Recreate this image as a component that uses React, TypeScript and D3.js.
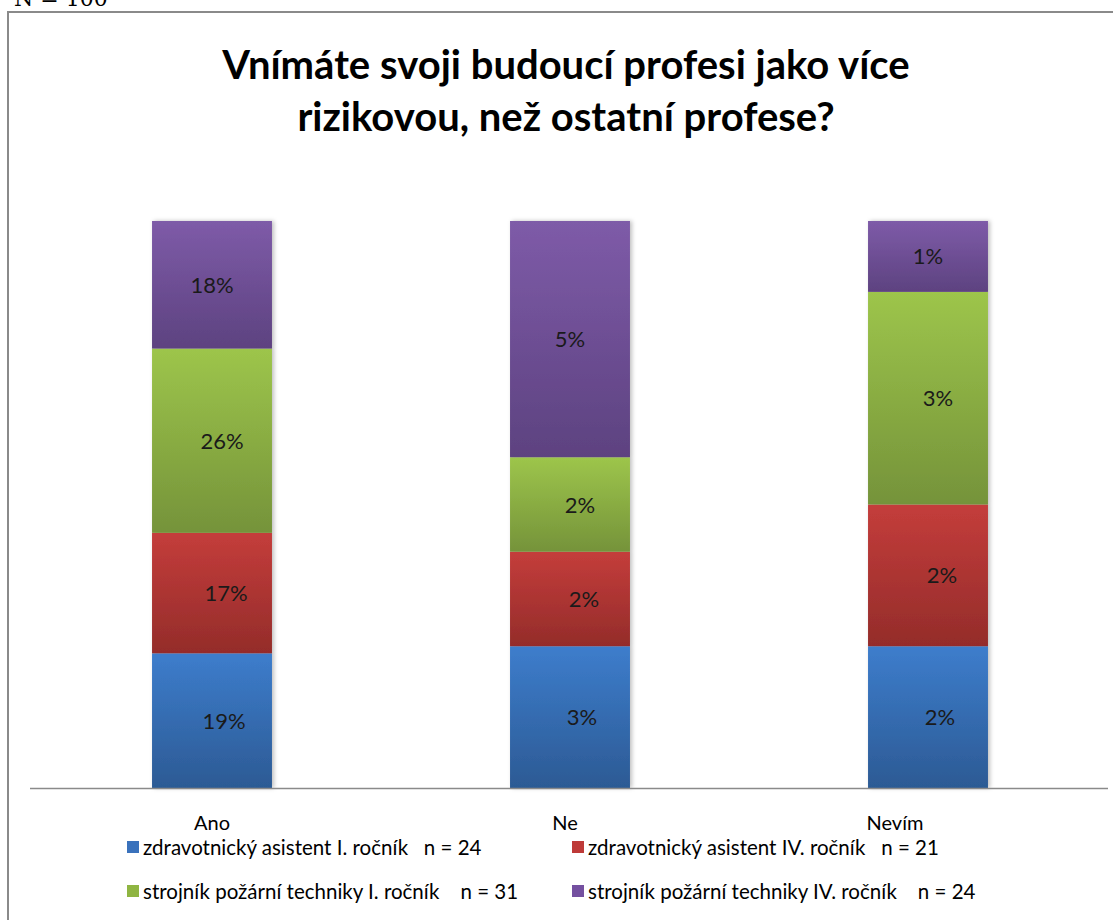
import React from "react";
import * as d3 from "d3";

const categories = ["Ano", "Ne", "Nevím"];
const seriesNames = [
  "zdravotnický asistent I. ročník   n = 24",
  "zdravotnický asistent IV. ročník   n = 21",
  "strojník požární techniky I. ročník    n = 31",
  "strojník požární techniky IV. ročník    n = 24",
];
const seriesKeys = ["zaI", "zaIV", "spI", "spIV"];
const zaI = [19, 3, 2];
const zaIV = [17, 2, 2];
const spI = [26, 2, 3];
const spIV = [18, 5, 1];
const titleLines = ["Vnímáte svoji budoucí profesi jako více", "rizikovou, než ostatní profese?"];

const colorsTop = ["#3d7dcc", "#c43d3b", "#9dc54b", "#7e5ba8"];
const colorsBot = ["#2c5a94", "#942c2a", "#75933a", "#5d4280"];
const legendColors = ["#3a72bc", "#be3a38", "#8fb542", "#7450a0"];

// layout offsets (pixels), not data
const catLabelShift = [0, -5, -33];
const dataLabelShift = [12, 14, 10, 0];

const W = 1113;
const H = 920;

export default function App() {
  const rows = categories.map((c, i) => ({
    cat: c,
    zaI: zaI[i],
    zaIV: zaIV[i],
    spI: spI[i],
    spIV: spIV[i],
  }));
  const stack = d3.stack<any>().keys(seriesKeys).offset(d3.stackOffsetExpand);
  const series = stack(rows);

  const x = d3.scaleBand().domain(categories).range([33, 1107]).paddingInner(0.665).paddingOuter(0.3325);
  const y = d3.scaleLinear().domain([0, 1]).range([788, 221]);
  const font = "Lato, 'Open Sans', sans-serif";
  const valArrays = [zaI, zaIV, spI, spIV];

  return (
    <svg width={W} height={H} style={{ position: "absolute", left: 0, top: 0 }} xmlns="http://www.w3.org/2000/svg">
      <defs>
        {seriesKeys.map((k, i) => (
          <linearGradient key={k} id={"g" + i} x1="0" y1="0" x2="0" y2="1">
            <stop offset="0%" stopColor={colorsTop[i]} />
            <stop offset="100%" stopColor={colorsBot[i]} />
          </linearGradient>
        ))}
        <filter id="sh" x="-10%" y="-10%" width="130%" height="120%">
          <feDropShadow dx="2" dy="0" stdDeviation="2" floodColor="#000" floodOpacity="0.25" />
        </filter>
      </defs>
      <rect x={0} y={0} width={W} height={H} fill="#fff" />
      <text x={14} y={6} fontFamily="'DejaVu Serif', serif" fontSize={22} fill="#000">N = 100</text>
      <rect x={8} y={12} width={W + 20} height={H + 20} fill="#fff" stroke="#8a8a8a" strokeWidth={2} />
      {titleLines.map((t, i) => (
        <text key={i} x={566} y={79 + i * 52} textAnchor="middle" fontFamily={font} fontWeight="bold" fontSize={40} fill="#000">
          {t}
        </text>
      ))}
      <g filter="url(#sh)">
        {series.map((s, si) =>
          s.map((d, ci) => (
            <rect
              key={si + "-" + ci}
              x={x(categories[ci])}
              y={y(d[1])}
              width={x.bandwidth()}
              height={y(d[0]) - y(d[1])}
              fill={`url(#g${si})`}
            />
          ))
        )}
      </g>
      {series.map((s, si) =>
        s.map((d, ci) => (
          <text
            key={"l" + si + "-" + ci}
            x={(x(categories[ci]) as number) + x.bandwidth() / 2 + dataLabelShift[si]}
            y={(y(d[0]) + y(d[1])) / 2 + 8}
            textAnchor="middle"
            fontFamily={font}
            fontSize={22}
            fill="#1a1a1a"
          >
            {valArrays[si][ci] + "%"}
          </text>
        ))
      )}
      <line x1={30} x2={1108} y1={788.5} y2={788.5} stroke="#8a8a8a" strokeWidth={1.5} />
      {categories.map((c, i) => (
        <text key={c} x={(x(c) as number) + x.bandwidth() / 2 + catLabelShift[i]} y={830} textAnchor="middle" fontFamily={font} fontSize={20} fill="#000">
          {c}
        </text>
      ))}
      {seriesNames.map((n, i) => {
        const col = i % 2;
        const row = Math.floor(i / 2);
        const lx = col === 0 ? 127 : 572;
        const ly = 855 + row * 44;
        return (
          <g key={n}>
            <rect x={lx} y={ly - 14} width={12} height={12} fill={legendColors[i]} />
            <text x={lx + 16} y={ly} fontFamily={font} fontSize={20.5} fill="#000" style={{ whiteSpace: "pre" }}>
              {n}
            </text>
          </g>
        );
      })}
    </svg>
  );
}
